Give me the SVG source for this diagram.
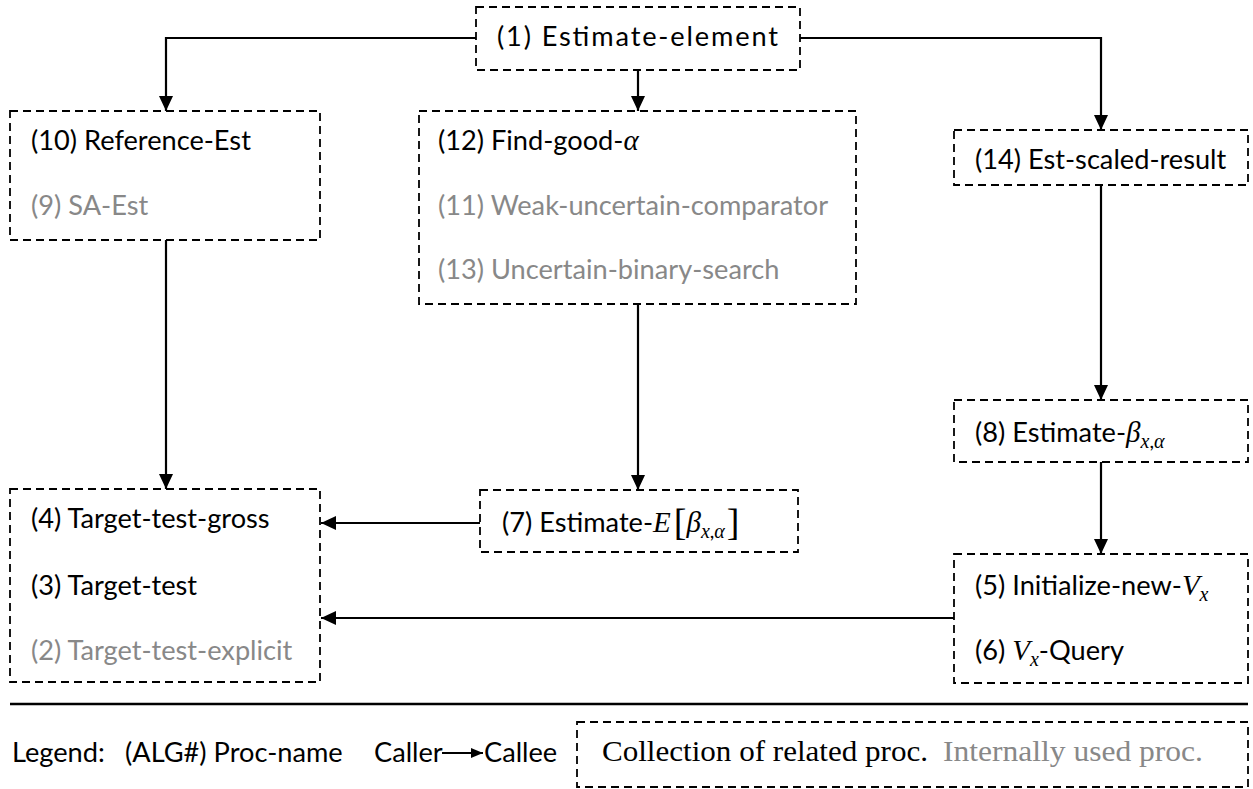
<svg xmlns="http://www.w3.org/2000/svg" width="1253" height="789" viewBox="0 0 1253 789">
<defs>
<style>
.box{fill:none;stroke:#000;stroke-width:1.8;stroke-dasharray:8 5}
.t{font-family:Lato,"Open Sans",sans-serif;font-size:27.2px;fill:#000}
.g{fill:#888}
.m{font-family:"Liberation Serif","DejaVu Serif",serif;font-style:italic;font-size:29px}
.br{font-family:"Liberation Serif","DejaVu Serif",serif;font-style:normal;font-size:38px;font-weight:300}
.sub{font-size:20px}
.c{fill:none;stroke:#000;stroke-width:2.2}
.s{font-family:"Liberation Serif","DejaVu Serif",serif;font-size:29px;fill:#000}
.sg{font-family:"Liberation Serif","DejaVu Serif",serif;font-size:29px;fill:#888}
</style>
<marker id="ah" markerUnits="userSpaceOnUse" markerWidth="15" markerHeight="14" viewBox="0 0 15 14" refX="15" refY="7" orient="auto">
<path d="M0,0 L15,7 L0,14 Z" fill="#000"/>
</marker>
<marker id="ahs" markerUnits="userSpaceOnUse" markerWidth="12" markerHeight="10" viewBox="0 0 12 10" refX="12" refY="5" orient="auto">
<path d="M0,0 L12,5 L0,10 Z" fill="#000"/>
</marker>
</defs>
<rect width="1253" height="789" fill="#fff"/>

<g id="connectors">
<path class="c" d="M476,38 H166 V111" marker-end="url(#ah)"/>
<path class="c" d="M638,70 V111" marker-end="url(#ah)"/>
<path class="c" d="M800,38 H1101 V130" marker-end="url(#ah)"/>
<path class="c" d="M166,240 V489" marker-end="url(#ah)"/>
<path class="c" d="M638,304 V490" marker-end="url(#ah)"/>
<path class="c" d="M1101,185 V400" marker-end="url(#ah)"/>
<path class="c" d="M1101,462 V554" marker-end="url(#ah)"/>
<path class="c" d="M480,523 H321" marker-end="url(#ah)"/>
<path class="c" d="M954,618 H321" marker-end="url(#ah)"/>
</g>

<g id="n1">
<rect class="box" x="476" y="7" width="324" height="63"/>
<text class="t" x="497" y="46" textLength="281" lengthAdjust="spacing">(1) Estimate-element</text>
</g>

<g id="n10">
<rect class="box" x="10" y="111" width="310" height="129"/>
<text class="t" x="31" y="150">(10) Reference-Est</text>
<text class="t g" x="31" y="215">(9) SA-Est</text>
</g>

<g id="n12">
<rect class="box" x="419" y="111" width="437" height="193"/>
<text class="t" x="438" y="150">(12) Find-good-<tspan class="m">α</tspan></text>
<text class="t g" x="438" y="215">(11) Weak-uncertain-comparator</text>
<text class="t g" x="438" y="279">(13) Uncertain-binary-search</text>
</g>

<g id="n14">
<rect class="box" x="954" y="130" width="294" height="55"/>
<text class="t" x="975" y="169">(14) Est-scaled-result</text>
</g>

<g id="n8">
<rect class="box" x="954" y="400" width="294" height="62"/>
<text class="t" x="975" y="442">(8) Estimate-<tspan class="m">β</tspan><tspan class="m sub" dy="6">x</tspan><tspan class="sub">,</tspan><tspan class="m sub">α</tspan></text>
</g>

<g id="n7">
<rect class="box" x="480" y="490" width="318" height="62"/>
<text class="t" x="502" y="532">(7) Estimate-<tspan class="m">E</tspan><tspan class="br" dx="3" dy="3">[</tspan><tspan class="m" dy="-3">β</tspan><tspan class="m sub" dy="6">x</tspan><tspan class="sub">,</tspan><tspan class="m sub">α</tspan><tspan class="br" dy="-3" dx="2">]</tspan></text>
</g>

<g id="n4">
<rect class="box" x="10" y="489" width="310" height="193"/>
<text class="t" x="31" y="528">(4) Target-test-gross</text>
<text class="t" x="31" y="595">(3) Target-test</text>
<text class="t g" x="31" y="660">(2) Target-test-explicit</text>
</g>

<g id="n5">
<rect class="box" x="954" y="554" width="294" height="129"/>
<text class="t" x="975" y="595">(5) Initialize-new-<tspan class="m">V</tspan><tspan class="m sub" dy="6">x</tspan></text>
<text class="t" x="975" y="660">(6) <tspan class="m">V</tspan><tspan class="m sub" dy="6">x</tspan><tspan dy="-6">-Query</tspan></text>
</g>

<g id="legend">
<line x1="10" y1="704" x2="1248" y2="704" stroke="#000" stroke-width="2.4"/>
<text class="t" x="12" y="762">Legend:</text>
<text class="t" x="125" y="762">(ALG#) Proc-name</text>
<text class="t" x="374" y="762">Caller</text>
<line x1="442" y1="753" x2="483" y2="753" stroke="#000" stroke-width="1.8" marker-end="url(#ahs)"/>
<text class="t" x="484" y="762">Callee</text>
<rect class="box" x="577" y="722" width="671" height="65"/>
<text class="s" x="602" y="761" textLength="326" lengthAdjust="spacingAndGlyphs">Collection of related proc.</text>
<text class="sg" x="943" y="761" textLength="260" lengthAdjust="spacingAndGlyphs">Internally used proc.</text>
</g>
</svg>
